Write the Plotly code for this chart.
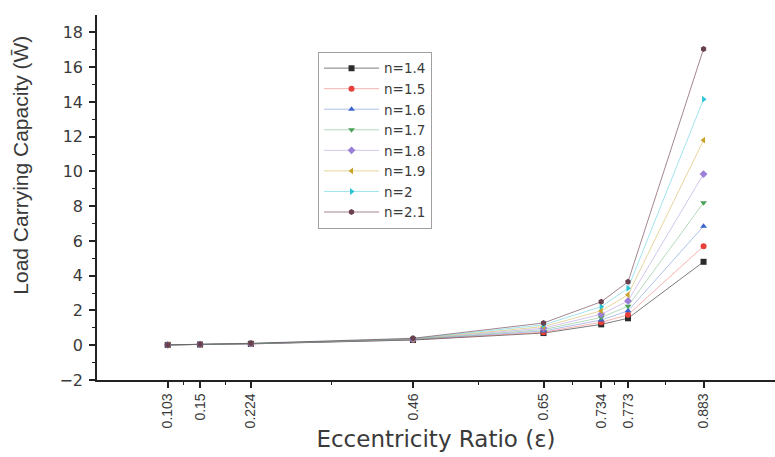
import plotly.graph_objects as go

# Eccentricity ratios (x positions, also used as tick labels)
ecc = [0.103, 0.15, 0.224, 0.46, 0.65, 0.734, 0.773, 0.883]
ecc_labels = ["0.103", "0.15", "0.224", "0.46", "0.65", "0.734", "0.773", "0.883"]

# Load carrying capacity for each power-law index n
w_n14 = [0.02, 0.04, 0.08, 0.30, 0.70, 1.20, 1.55, 4.80]
w_n15 = [0.02, 0.04, 0.08, 0.31, 0.75, 1.32, 1.75, 5.70]
w_n16 = [0.02, 0.04, 0.09, 0.32, 0.82, 1.45, 1.98, 6.85]
w_n17 = [0.02, 0.04, 0.09, 0.33, 0.90, 1.60, 2.25, 8.20]
w_n18 = [0.02, 0.05, 0.09, 0.35, 0.98, 1.78, 2.55, 9.85]
w_n19 = [0.02, 0.05, 0.10, 0.36, 1.07, 1.98, 2.90, 11.80]
w_n20 = [0.02, 0.05, 0.10, 0.38, 1.17, 2.22, 3.28, 14.15]
w_n21 = [0.02, 0.05, 0.11, 0.40, 1.28, 2.50, 3.65, 17.05]

series_names = ["n=1.4", "n=1.5", "n=1.6", "n=1.7", "n=1.8", "n=1.9", "n=2", "n=2.1"]
series_values = [w_n14, w_n15, w_n16, w_n17, w_n18, w_n19, w_n20, w_n21]

colors = ["#2b2b2b", "#e8413b", "#3a63cc", "#49a35a", "#9b7fd6", "#c9a229", "#2cc4d4", "#6a3f4f"]
line_colors = ["rgba(60,60,60,0.75)", "rgba(232,65,59,0.45)", "rgba(58,99,204,0.45)",
               "rgba(73,163,90,0.45)", "rgba(155,127,214,0.5)", "rgba(201,162,41,0.5)",
               "rgba(44,196,212,0.5)", "rgba(106,63,79,0.7)"]
symbols = ["square", "circle", "triangle-up", "triangle-down", "diamond",
           "triangle-left", "triangle-right", "hexagon"]

y_ticks = list(range(-2, 19, 2))
y_minor = list(range(-1, 19, 2))
x_minor = [(a + b) / 2 for a, b in zip(ecc[:-1], ecc[1:])]

fig = go.Figure()
for name, vals, col, lcol, sym in zip(series_names, series_values, colors, line_colors, symbols):
    fig.add_trace(go.Scatter(
        x=ecc, y=vals, name=name, mode="lines+markers",
        line=dict(color=lcol, width=0.9),
        marker=dict(symbol=sym, size=6, color=col),
    ))

wide_font = "DejaVu Sans, Verdana, sans-serif"
arial_like = "Liberation Sans, Arial, sans-serif"
text_color = "#3a3a3a"

fig.update_layout(
    width=775, height=457,
    margin=dict(l=97, r=0, t=15, b=77),
    plot_bgcolor="white", paper_bgcolor="white",
    font=dict(family=wide_font, color=text_color),
    showlegend=True,
    legend=dict(
        x=0.326, y=0.899, xanchor="left", yanchor="top",
        bgcolor="white", bordercolor="#a0a0a0", borderwidth=1,
        font=dict(size=13.5, color=text_color),
        tracegroupgap=0, itemwidth=55,
    ),
    xaxis=dict(
        range=[0, 0.987],
        tickmode="array", tickvals=ecc, ticktext=ecc_labels,
        tickangle=-90, tickfont=dict(family=arial_like, size=14, color=text_color),
        ticks="outside", ticklen=6, tickwidth=1.5, tickcolor="#222222",
        showline=True, linecolor="#222222", linewidth=1.5,
        showgrid=False, zeroline=False,
        minor=dict(tickmode="array", tickvals=x_minor, ticks="outside",
                   ticklen=3, tickwidth=1.2, tickcolor="#222222", showgrid=False),
        title=dict(text="Eccentricity Ratio (ε)", font=dict(size=23, color=text_color),
                   standoff=4),
    ),
    yaxis=dict(
        range=[-2, 19],
        tickmode="array", tickvals=y_ticks,
        tickfont=dict(size=16, color=text_color),
        ticklabelstandoff=3,
        ticks="outside", ticklen=6, tickwidth=1.5, tickcolor="#222222",
        showline=True, linecolor="#222222", linewidth=1.5,
        showgrid=False, zeroline=False,
        minor=dict(tickmode="array", tickvals=y_minor, ticks="outside",
                   ticklen=3, tickwidth=1.2, tickcolor="#222222", showgrid=False),
    ),
    annotations=[dict(
        text="Load Carrying Capacity (W\u0304)",
        xref="paper", yref="paper", x=-0.114, y=0.589,
        xanchor="center", yanchor="middle", textangle=-90, showarrow=False,
        font=dict(family=arial_like, size=21, color=text_color),
    )],
)

fig.write_html("out.html")
